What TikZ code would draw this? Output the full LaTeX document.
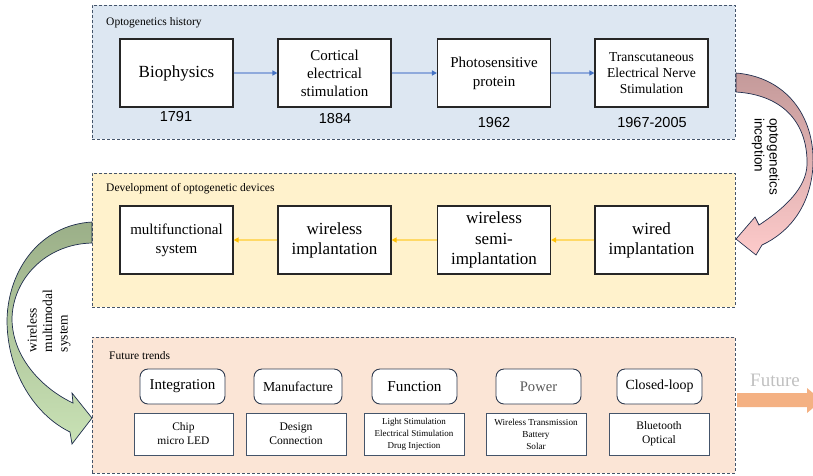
\documentclass[tikz,border=0pt]{standalone}
\usepackage{fontspec}
\setmainfont{Liberation Serif}
\newfontfamily\arialf{Liberation Sans}
\usetikzlibrary{arrows.meta}
\definecolor{panelline}{HTML}{44546A}
\definecolor{boxline}{HTML}{262626}
\definecolor{fillA}{HTML}{DDE7F2}
\definecolor{fillB}{HTML}{FFF2CC}
\definecolor{fillC}{HTML}{FBE5D6}
\definecolor{blueline}{HTML}{8FAADC}
\definecolor{bluehead}{HTML}{4472C4}
\definecolor{goldline}{HTML}{FFD966}
\definecolor{goldhead}{HTML}{FFC000}
\definecolor{futorange}{HTML}{F4B183}
\definecolor{futgray}{HTML}{C0C0C0}
\definecolor{arrowedge}{HTML}{1F2D4D}
\definecolor{rosyA}{HTML}{C49A9A}
\definecolor{rosyM}{HTML}{DCAEAE}
\definecolor{rosyB}{HTML}{FDCACA}
\definecolor{greenA}{HTML}{9BAF88}
\definecolor{greenM}{HTML}{B1C89D}
\definecolor{greenB}{HTML}{C9E2B5}
\definecolor{roundline}{HTML}{2F3B50}
\definecolor{powergray}{HTML}{595959}
\begin{document}
\begin{tikzpicture}[x=1pt,y=-1pt,
  panelbox/.style={draw=panelline, dash pattern=on 3pt off 2pt, line width=0.9pt, inner sep=0pt, minimum width=643pt},
  paneltitle/.style={anchor=west, inner sep=0pt, font=\fontsize{11.5}{13}\selectfont},
  hbox/.style={draw=boxline, line width=1.1pt, fill=white, minimum width=113pt, minimum height=68pt, inner sep=0pt, align=center},
  yearlabel/.style={inner sep=0pt, font=\arialf\fontsize{14.5}{16}\selectfont},
  topbox/.style={draw=roundline, line width=0.9pt, fill=white, rounded corners=8pt, minimum height=35pt, inner sep=0pt, align=center},
  lowbox/.style={draw=panelline, line width=0.9pt, fill=white, minimum height=42pt, minimum width=100pt, inner sep=0pt, align=center},
  bluearrow/.style={draw=blueline, line width=1.4pt, -{Triangle[length=5pt,width=5pt,color=bluehead]}},
  goldarrow/.style={draw=goldline, line width=1.4pt, -{Triangle[length=5pt,width=5pt,color=goldhead]}},
  curvedarrow/.style={draw=arrowedge, line width=0.7pt, line join=miter}
]
\useasboundingbox (0,0) rectangle (813,475);

% panels
\node[panelbox, fill=fillA, minimum height=134pt] (p1) at (413.5,72) {};
\node[panelbox, fill=fillB, minimum height=134pt] (p2) at (413.5,240) {};
\node[panelbox, fill=fillC, minimum height=136pt] (p3) at (413.5,405) {};

\node[paneltitle] (t1) at (106,23) {Optogenetics history};
\node[paneltitle] (t2) at (106,189) {Development of optogenetic devices};
\node[paneltitle] (t3) at (109,356) {Future trends};

% panel 1
\node[hbox, font=\fontsize{17}{20}\selectfont] (a1) at (176.5,73) {Biophysics};
\node[hbox, font=\fontsize{15}{18}\selectfont] (a2) at (334.5,73) {Cortical\\electrical\\stimulation};
\node[hbox, font=\fontsize{15}{19}\selectfont] (a3) at (494,73) {Photosensitive\\protein};
\node[hbox, font=\fontsize{13.6}{16}\selectfont] (a4) at (651.5,73) {Transcutaneous\\Electrical Nerve\\Stimulation};
\draw[bluearrow] (a1.east) -- (a2.west);
\draw[bluearrow] (a2.east) -- (a3.west);
\draw[bluearrow] (a3.east) -- (a4.west);
\node[yearlabel] (y1) at (176,117) {1791};
\node[yearlabel] (y2) at (335,119) {1884};
\node[yearlabel] (y3) at (494,123) {1962};
\node[yearlabel] (y4) at (652,123) {1967-2005};

% panel 2
\node[hbox, font=\fontsize{15}{19}\selectfont] (b1) at (176.5,240) {multifunctional\\system};
\node[hbox, font=\fontsize{17}{20}\selectfont] (b2) at (334.5,240) {wireless\\implantation};
\node[hbox, font=\fontsize{17}{20.5}\selectfont] (b3) at (494,240) {wireless\\semi-\\implantation};
\node[hbox, font=\fontsize{17}{20}\selectfont] (b4) at (651.5,240) {wired\\implantation};
\draw[goldarrow] (b4.west) -- (b3.east);
\draw[goldarrow] (b3.west) -- (b2.east);
\draw[goldarrow] (b2.west) -- (b1.east);

% panel 3 top
\node[topbox, minimum width=85pt, font=\fontsize{15}{18}\selectfont] (c1) at (182.5,386.5) {Integration};
\node[topbox, minimum width=88pt, font=\fontsize{13.7}{16}\selectfont] (c2) at (298,386.5) {Manufacture};
\node[topbox, minimum width=85pt, font=\fontsize{15.2}{18}\selectfont] (c3) at (414.5,386.5) {Function};
\node[topbox, minimum width=85pt, font=\fontsize{14.6}{18}\selectfont, text=powergray] (c4) at (538.5,386.5) {Power};
\node[topbox, minimum width=85pt, font=\fontsize{13.9}{16}\selectfont] (c5) at (659.5,386.5) {Closed-loop};

% panel 3 bottom
\node[lowbox, minimum width=99pt, font=\fontsize{11.5}{14}\selectfont] (d1) at (183.5,434) {Chip\\micro LED};
\node[lowbox, font=\fontsize{11.6}{14}\selectfont] (d2) at (296,434) {Design\\Connection};
\node[lowbox, font=\fontsize{9}{12}\selectfont] (d3) at (414,434) {Light Stimulation\\Electrical Stimulation\\Drug Injection};
\node[lowbox, font=\fontsize{9.2}{12}\selectfont] (d4) at (536,434) {Wireless Transmission\\Battery\\Solar};
\node[lowbox, font=\fontsize{11.5}{14}\selectfont] (d5) at (659,434) {Bluetooth\\Optical};

% future arrow
\fill[futorange] (737,393) -- (807,393) -- (807,388) -- (822,400.5) -- (807,413) -- (807,407) -- (737,407) -- cycle;
\node[inner sep=0pt, text=futgray, font=\fontsize{19}{20}\selectfont] (fut) at (775,380) {Future};

% right curved arrow
\shade[top color=rosyA, middle color=rosyM, bottom color=rosyB, curvedarrow]
  (736,73) .. controls (785,77) and (815,115) .. (813,165)
  .. controls (811,205) and (790,232) .. (762,245)
  -- (756,255) -- (736,239) -- (755,217) -- (759,225)
  .. controls (785,208) and (806,188) .. (807,165)
  .. controls (808,125) and (785,95) .. (736,92) -- cycle;
\node[rotate=-90, inner sep=0pt, align=left, font=\arialf\fontsize{13.5}{15}\selectfont] (lab1) at (765.5,156.5) {optogenetics\\inception};

% left curved arrow
\shade[top color=greenA, middle color=greenM, bottom color=greenB, curvedarrow]
  (92,222) .. controls (40,225) and (8,270) .. (7,320)
  .. controls (7,372) and (35,415) .. (70,432)
  -- (72,444) -- (92,418) -- (72,393) -- (73,403)
  .. controls (45,390) and (13,360) .. (12,320)
  .. controls (12,280) and (45,244) .. (92,243) -- cycle;
\node[rotate=90, inner sep=0pt, align=left, font=\fontsize{13.5}{15.5}\selectfont] (lab2) at (49,321) {wireless\\multimodal\\system};
\end{tikzpicture}
\end{document}
